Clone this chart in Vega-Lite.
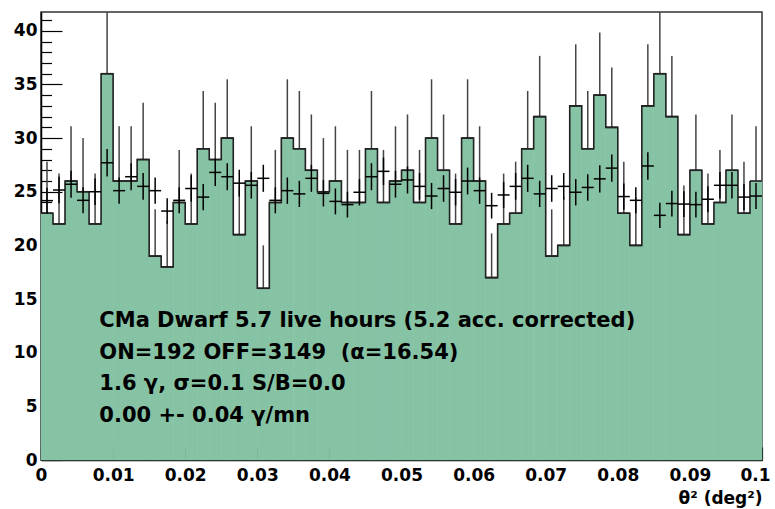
{
  "$schema": "https://vega.github.io/schema/vega-lite/v6.json",
  "width": 721,
  "height": 448,
  "autosize": {"type": "none"},
  "padding": {"left": 41, "top": 12, "right": 13, "bottom": 49},
  "background": "white",
  "data": {"values": [
    {"lo": 0.000000, "hi": 0.001667, "mid": 0.000833, "on": 23, "onHi": 27.80, "off": 24.17, "offLo": 22.96, "offHi": 25.38},
    {"lo": 0.001667, "hi": 0.003333, "mid": 0.002500, "on": 22, "onHi": 26.69, "off": 25.16, "offLo": 23.93, "offHi": 26.39},
    {"lo": 0.003333, "hi": 0.005000, "mid": 0.004167, "on": 26, "onHi": 31.10, "off": 25.70, "offLo": 24.45, "offHi": 26.95},
    {"lo": 0.005000, "hi": 0.006667, "mid": 0.005833, "on": 25, "onHi": 30.00, "off": 24.20, "offLo": 22.99, "offHi": 25.41},
    {"lo": 0.006667, "hi": 0.008333, "mid": 0.007500, "on": 22, "onHi": 26.69, "off": 25.00, "offLo": 23.77, "offHi": 26.23},
    {"lo": 0.008333, "hi": 0.010000, "mid": 0.009167, "on": 36, "onHi": 42.00, "off": 27.70, "offLo": 26.41, "offHi": 28.99},
    {"lo": 0.010000, "hi": 0.011667, "mid": 0.010833, "on": 26, "onHi": 31.10, "off": 25.10, "offLo": 23.87, "offHi": 26.33},
    {"lo": 0.011667, "hi": 0.013333, "mid": 0.012500, "on": 26, "onHi": 31.10, "off": 26.40, "offLo": 25.14, "offHi": 27.66},
    {"lo": 0.013333, "hi": 0.015000, "mid": 0.014167, "on": 28, "onHi": 33.29, "off": 25.50, "offLo": 24.26, "offHi": 26.74},
    {"lo": 0.015000, "hi": 0.016667, "mid": 0.015833, "on": 19, "onHi": 23.36, "off": 25.10, "offLo": 23.87, "offHi": 26.33},
    {"lo": 0.016667, "hi": 0.018333, "mid": 0.017500, "on": 18, "onHi": 22.24, "off": 23.20, "offLo": 22.02, "offHi": 24.39},
    {"lo": 0.018333, "hi": 0.020000, "mid": 0.019167, "on": 24, "onHi": 28.90, "off": 24.20, "offLo": 22.99, "offHi": 25.41},
    {"lo": 0.020000, "hi": 0.021667, "mid": 0.020833, "on": 22, "onHi": 26.69, "off": 25.30, "offLo": 24.06, "offHi": 26.54},
    {"lo": 0.021667, "hi": 0.023333, "mid": 0.022500, "on": 29, "onHi": 34.39, "off": 24.50, "offLo": 23.28, "offHi": 25.72},
    {"lo": 0.023333, "hi": 0.025000, "mid": 0.024167, "on": 28, "onHi": 33.29, "off": 26.80, "offLo": 25.53, "offHi": 28.07},
    {"lo": 0.025000, "hi": 0.026667, "mid": 0.025833, "on": 30, "onHi": 35.48, "off": 26.40, "offLo": 25.14, "offHi": 27.66},
    {"lo": 0.026667, "hi": 0.028333, "mid": 0.027500, "on": 21, "onHi": 25.58, "off": 25.80, "offLo": 24.55, "offHi": 27.05},
    {"lo": 0.028333, "hi": 0.030000, "mid": 0.029167, "on": 26, "onHi": 31.10, "off": 25.60, "offLo": 24.36, "offHi": 26.84},
    {"lo": 0.030000, "hi": 0.031667, "mid": 0.030833, "on": 16, "onHi": 20.00, "off": 26.25, "offLo": 24.99, "offHi": 27.51},
    {"lo": 0.031667, "hi": 0.033333, "mid": 0.032500, "on": 24, "onHi": 28.90, "off": 24.20, "offLo": 22.99, "offHi": 25.41},
    {"lo": 0.033333, "hi": 0.035000, "mid": 0.034167, "on": 30, "onHi": 35.48, "off": 25.10, "offLo": 23.87, "offHi": 26.33},
    {"lo": 0.035000, "hi": 0.036667, "mid": 0.035833, "on": 29, "onHi": 34.39, "off": 24.80, "offLo": 23.58, "offHi": 26.02},
    {"lo": 0.036667, "hi": 0.038333, "mid": 0.037500, "on": 27, "onHi": 32.20, "off": 26.25, "offLo": 24.99, "offHi": 27.51},
    {"lo": 0.038333, "hi": 0.040000, "mid": 0.039167, "on": 25, "onHi": 30.00, "off": 24.85, "offLo": 23.63, "offHi": 26.08},
    {"lo": 0.040000, "hi": 0.041667, "mid": 0.040833, "on": 26, "onHi": 31.10, "off": 24.10, "offLo": 22.89, "offHi": 25.31},
    {"lo": 0.041667, "hi": 0.043333, "mid": 0.042500, "on": 24, "onHi": 28.90, "off": 23.80, "offLo": 22.60, "offHi": 25.00},
    {"lo": 0.043333, "hi": 0.045000, "mid": 0.044167, "on": 24, "onHi": 28.90, "off": 24.95, "offLo": 23.72, "offHi": 26.18},
    {"lo": 0.045000, "hi": 0.046667, "mid": 0.045833, "on": 29, "onHi": 34.39, "off": 26.40, "offLo": 25.14, "offHi": 27.66},
    {"lo": 0.046667, "hi": 0.048333, "mid": 0.047500, "on": 24, "onHi": 28.90, "off": 26.90, "offLo": 25.62, "offHi": 28.18},
    {"lo": 0.048333, "hi": 0.050000, "mid": 0.049167, "on": 26, "onHi": 31.10, "off": 25.70, "offLo": 24.45, "offHi": 26.95},
    {"lo": 0.050000, "hi": 0.051667, "mid": 0.050833, "on": 27, "onHi": 32.20, "off": 26.10, "offLo": 24.84, "offHi": 27.36},
    {"lo": 0.051667, "hi": 0.053333, "mid": 0.052500, "on": 24, "onHi": 28.90, "off": 25.50, "offLo": 24.26, "offHi": 26.74},
    {"lo": 0.053333, "hi": 0.055000, "mid": 0.054167, "on": 30, "onHi": 35.48, "off": 24.60, "offLo": 23.38, "offHi": 25.82},
    {"lo": 0.055000, "hi": 0.056667, "mid": 0.055833, "on": 27, "onHi": 32.20, "off": 25.30, "offLo": 24.06, "offHi": 26.54},
    {"lo": 0.056667, "hi": 0.058333, "mid": 0.057500, "on": 22, "onHi": 26.69, "off": 24.95, "offLo": 23.72, "offHi": 26.18},
    {"lo": 0.058333, "hi": 0.060000, "mid": 0.059167, "on": 30, "onHi": 35.48, "off": 26.00, "offLo": 24.75, "offHi": 27.25},
    {"lo": 0.060000, "hi": 0.061667, "mid": 0.060833, "on": 26, "onHi": 31.10, "off": 25.10, "offLo": 23.87, "offHi": 26.33},
    {"lo": 0.061667, "hi": 0.063333, "mid": 0.062500, "on": 17, "onHi": 21.12, "off": 23.70, "offLo": 22.50, "offHi": 24.90},
    {"lo": 0.063333, "hi": 0.065000, "mid": 0.064167, "on": 22, "onHi": 26.69, "off": 24.70, "offLo": 23.48, "offHi": 25.92},
    {"lo": 0.065000, "hi": 0.066667, "mid": 0.065833, "on": 23, "onHi": 27.80, "off": 25.50, "offLo": 24.26, "offHi": 26.74},
    {"lo": 0.066667, "hi": 0.068333, "mid": 0.067500, "on": 29, "onHi": 34.39, "off": 26.25, "offLo": 24.99, "offHi": 27.51},
    {"lo": 0.068333, "hi": 0.070000, "mid": 0.069167, "on": 32, "onHi": 37.66, "off": 24.80, "offLo": 23.58, "offHi": 26.02},
    {"lo": 0.070000, "hi": 0.071667, "mid": 0.070833, "on": 19, "onHi": 23.36, "off": 25.30, "offLo": 24.06, "offHi": 26.54},
    {"lo": 0.071667, "hi": 0.073333, "mid": 0.072500, "on": 20, "onHi": 24.47, "off": 25.50, "offLo": 24.26, "offHi": 26.74},
    {"lo": 0.073333, "hi": 0.075000, "mid": 0.074167, "on": 33, "onHi": 38.74, "off": 24.95, "offLo": 23.72, "offHi": 26.18},
    {"lo": 0.075000, "hi": 0.076667, "mid": 0.075833, "on": 29, "onHi": 34.39, "off": 25.40, "offLo": 24.16, "offHi": 26.64},
    {"lo": 0.076667, "hi": 0.078333, "mid": 0.077500, "on": 34, "onHi": 39.83, "off": 26.20, "offLo": 24.94, "offHi": 27.46},
    {"lo": 0.078333, "hi": 0.080000, "mid": 0.079167, "on": 31, "onHi": 36.57, "off": 27.20, "offLo": 25.92, "offHi": 28.48},
    {"lo": 0.080000, "hi": 0.081667, "mid": 0.080833, "on": 23, "onHi": 27.80, "off": 24.55, "offLo": 23.33, "offHi": 25.77},
    {"lo": 0.081667, "hi": 0.083333, "mid": 0.082500, "on": 20, "onHi": 24.47, "off": 24.20, "offLo": 22.99, "offHi": 25.41},
    {"lo": 0.083333, "hi": 0.085000, "mid": 0.084167, "on": 33, "onHi": 38.74, "off": 27.40, "offLo": 26.11, "offHi": 28.69},
    {"lo": 0.085000, "hi": 0.086667, "mid": 0.085833, "on": 36, "onHi": 42.00, "off": 22.80, "offLo": 21.63, "offHi": 23.98},
    {"lo": 0.086667, "hi": 0.088333, "mid": 0.087500, "on": 32, "onHi": 37.66, "off": 23.90, "offLo": 22.70, "offHi": 25.10},
    {"lo": 0.088333, "hi": 0.090000, "mid": 0.089167, "on": 21, "onHi": 25.58, "off": 23.85, "offLo": 22.65, "offHi": 25.05},
    {"lo": 0.090000, "hi": 0.091667, "mid": 0.090833, "on": 27, "onHi": 32.20, "off": 23.80, "offLo": 22.60, "offHi": 25.00},
    {"lo": 0.091667, "hi": 0.093333, "mid": 0.092500, "on": 22, "onHi": 26.69, "off": 24.30, "offLo": 23.09, "offHi": 25.51},
    {"lo": 0.093333, "hi": 0.095000, "mid": 0.094167, "on": 24, "onHi": 28.90, "off": 25.60, "offLo": 24.36, "offHi": 26.84},
    {"lo": 0.095000, "hi": 0.096667, "mid": 0.095833, "on": 27, "onHi": 32.20, "off": 25.60, "offLo": 24.36, "offHi": 26.84},
    {"lo": 0.096667, "hi": 0.098333, "mid": 0.097500, "on": 23, "onHi": 27.80, "off": 24.50, "offLo": 23.28, "offHi": 25.72},
    {"lo": 0.098333, "hi": 0.100000, "mid": 0.099167, "on": 26, "onHi": 31.10, "off": 24.60, "offLo": 23.38, "offHi": 25.82}
  ]},
  "resolve": {"axis": {"x": "independent", "y": "independent"}},
  "layer": [
    {
      "mark": {"type": "bar", "fill": "#86c3a4", "stroke": "#86c3a4", "strokeWidth": 0.6},
      "encoding": {
        "x": {"field": "lo", "type": "quantitative", "scale": {"domain": [0, 0.1], "nice": false, "zero": false},
          "axis": {"orient": "bottom", "values": [0, 0.01, 0.02, 0.03, 0.04, 0.05, 0.06, 0.07, 0.08, 0.09, 0.1], "format": "~g",
            "labelOffset": {"condition": {"test": "datum.value >= 0.099", "value": -7}, "value": 0},
            "tickSize": -13, "labelPadding": 20, "title": "θ² (deg²)", "titleX": 721, "titleY": 43, "titleAlign": "right", "titleAnchor": "end", "titleBaseline": "alphabetic",
            "titleFont": "DejaVu Sans", "titleFontSize": 17, "titleFontWeight": "bold", "titleColor": "black"}},
        "x2": {"field": "hi"},
        "y": {"field": "on", "type": "quantitative", "scale": {"domain": [0, 41.75], "nice": false, "zero": true},
          "axis": {"orient": "left", "values": [0, 5, 10, 15, 20, 25, 30, 35, 40], "format": "d", "tickSize": -21, "labelPadding": 25, "title": null}},
        "y2": {"datum": 0}
      }
    },
    {
      "mark": {"type": "rule", "color": "#444444", "strokeWidth": 1.5, "clip": true},
      "encoding": {
        "x": {"field": "mid", "type": "quantitative",
          "axis": {"orient": "bottom", "values": [0.002, 0.004, 0.006, 0.008, 0.012, 0.014, 0.016, 0.018, 0.022, 0.024, 0.026, 0.028, 0.032, 0.034, 0.036, 0.038, 0.042, 0.044, 0.046, 0.048, 0.052, 0.054, 0.056, 0.058, 0.062, 0.064, 0.066, 0.068, 0.072, 0.074, 0.076, 0.078, 0.082, 0.084, 0.086, 0.088, 0.092, 0.094, 0.096, 0.098],
            "tickSize": -7, "labels": false, "domain": false, "title": null}},
        "y": {"field": "on", "type": "quantitative",
          "axis": {"orient": "left", "values": [1, 2, 3, 4, 6, 7, 8, 9, 11, 12, 13, 14, 16, 17, 18, 19, 21, 22, 23, 24, 26, 27, 28, 29, 31, 32, 33, 34, 36, 37, 38, 39, 41],
            "tickSize": -10.5, "labels": false, "domain": false, "title": null}},
        "y2": {"field": "onHi"}
      }
    },
    {
      "mark": {"type": "line", "interpolate": "step-after", "color": "#222222", "strokeWidth": 1.6},
      "encoding": {
        "x": {"field": "lo", "type": "quantitative", "axis": null},
        "y": {"field": "on", "type": "quantitative", "axis": null}
      }
    },
    {
      "mark": {"type": "rule", "color": "#222222", "strokeWidth": 1.6},
      "encoding": {
        "x": {"field": "lo", "type": "quantitative", "axis": null},
        "x2": {"field": "hi"},
        "y": {"field": "on", "type": "quantitative", "axis": null}
      }
    },
    {
      "mark": {"type": "rule", "color": "black", "strokeWidth": 1.5},
      "encoding": {
        "x": {"field": "lo", "type": "quantitative", "axis": null},
        "x2": {"field": "hi"},
        "y": {"field": "off", "type": "quantitative", "axis": null}
      }
    },
    {
      "mark": {"type": "rule", "color": "black", "strokeWidth": 1.5},
      "encoding": {
        "x": {"field": "mid", "type": "quantitative", "axis": null},
        "y": {"field": "offLo", "type": "quantitative", "axis": null},
        "y2": {"field": "offHi"}
      }
    },
    {
      "data": {"values": [{}]},
      "mark": {"type": "text", "align": "left", "baseline": "alphabetic", "font": "DejaVu Sans", "fontWeight": "bold", "fontSize": 21, "lineHeight": 31.5, "color": "black"},
      "encoding": {
        "x": {"datum": 0.00809, "type": "quantitative", "axis": null},
        "y": {"datum": 12.37, "type": "quantitative", "axis": null},
        "text": {"value": ["CMa Dwarf 5.7 live hours (5.2 acc. corrected)", "ON=192 OFF=3149 \u00a0(α=16.54)", "1.6 γ, σ=0.1 S/B=0.0", "0.00 +- 0.04 γ/mn"]}
      }
    }
  ],
  "config": {
    "view": {"stroke": "#333333", "strokeWidth": 1.5},
    "font": "DejaVu Sans",
    "axis": {"labelFont": "DejaVu Sans", "labelFontWeight": "bold", "labelFontSize": 17, "labelColor": "black",
      "domainColor": "black", "domainWidth": 1.5, "tickColor": "black", "tickWidth": 1.2, "grid": false, "labelFlush": false, "labelOverlap": false}
  }
}
